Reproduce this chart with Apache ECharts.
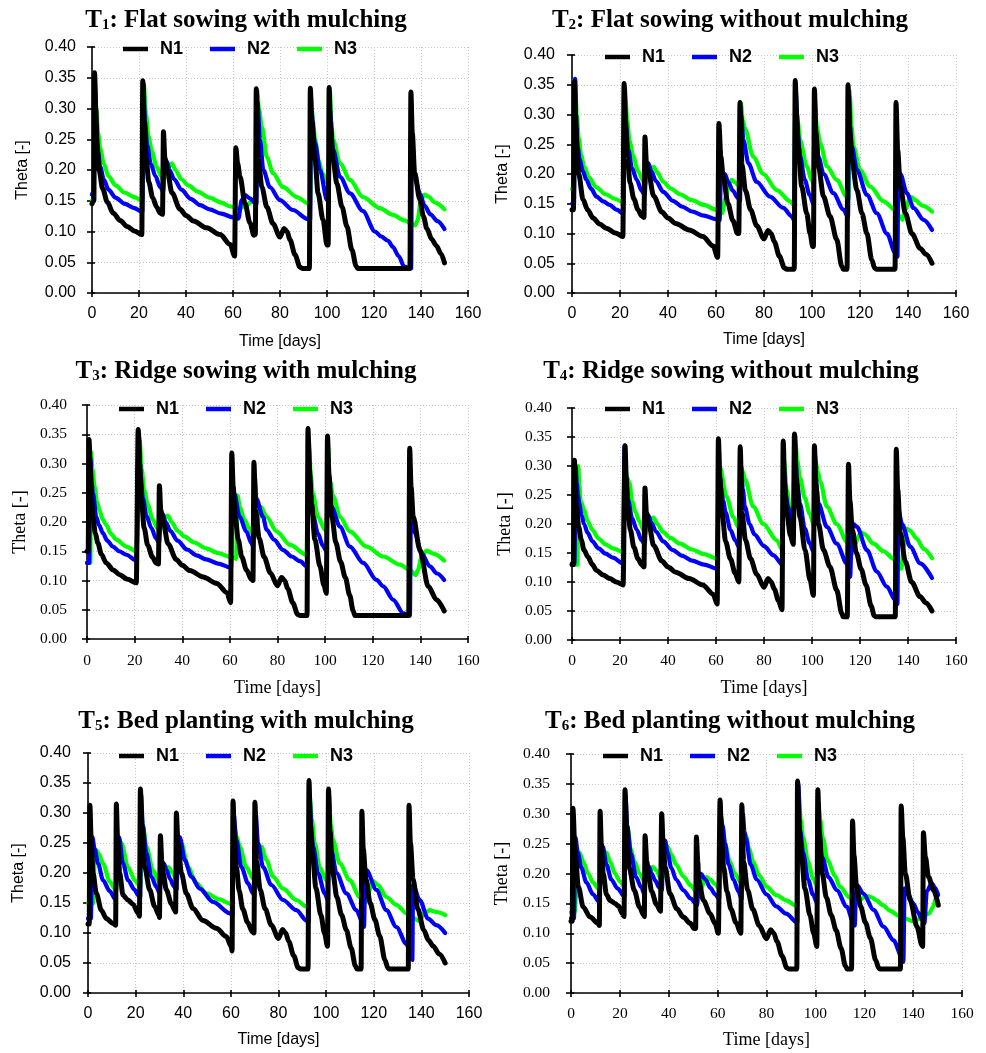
<!DOCTYPE html>
<html><head><meta charset="utf-8">
<script src="https://cdn.jsdelivr.net/npm/echarts@6/dist/echarts.min.js"></script>
<style>html,body{margin:0;padding:0;background:#fff}#c{width:986px;height:1053px}</style>
</head><body><div id="c"></div>
<script>
// ---------- axis definitions ----------
const X_MIN = 0, X_MAX = 160, X_STEP = 20;
const Y_MIN = 0, Y_MAX = 0.4, Y_STEP = 0.05;
const X_NAME = 'Time [days]';
const Y_NAME = 'Theta [-]';
const SERIES_NAMES = ['N1', 'N2', 'N3'];
const TITLE_SUBS = ['1', '2', '3', '4', '5', '6'];
const TITLE_TEXTS = [': Flat sowing with mulching', ': Flat sowing without mulching', ': Ridge sowing with mulching',
  ': Ridge sowing without mulching', ': Bed planting with mulching', ': Bed planting without mulching'];

// ---------- data: [day, theta] ----------
const T1_N1 = [[0,0.145],[0.8,0.15],[1.1,0.358],[1.6,0.3],[2.2,0.24],[3,0.2],[4.5,0.17],[6.5,0.148],[9,0.13],[12,0.118],[15,0.108],[18,0.101],[21.2,0.095],
[21.6,0.345],[22.2,0.28],[23,0.22],[24.2,0.18],[25.8,0.155],[27.5,0.14],[29,0.13],[30,0.128],
[30.4,0.262],[31,0.22],[32,0.2],[34,0.163],[37.5,0.136],[40,0.126],[43.2,0.117],[48.8,0.106],[54.5,0.095],[58.8,0.079],[60.7,0.06],
[61.2,0.236],[62,0.21],[63,0.189],[65.1,0.146],[67.2,0.114],[68.9,0.094],[69.5,0.095],
[69.9,0.332],[70.8,0.216],[72.3,0.172],[74.4,0.14],[77,0.113],[80,0.091],[81.7,0.105],[83,0.1],[84.3,0.086],[86.4,0.062],[88.5,0.042],[89.5,0.04],[92.5,0.04],
[92.9,0.333],[93.5,0.28],[94.9,0.216],[96.2,0.162],[98.3,0.119],[100,0.078],[100.5,0.078],
[100.9,0.334],[101.5,0.27],[102.6,0.216],[104.2,0.178],[106.4,0.14],[108.5,0.108],[110.6,0.07],[112.4,0.044],[113,0.04],[135.3,0.04],
[135.7,0.327],[136.3,0.26],[137.3,0.195],[139.5,0.152],[141,0.125],[142.5,0.105],[144.5,0.088],[146.5,0.077],[148.5,0.064],[150,0.049]];
const T1_N2 = [[0,0.16],[0.6,0.165],[1.2,0.34],[1.8,0.27],[2.5,0.23],[3.5,0.205],[5,0.185],[7,0.168],[10,0.155],[14,0.145],[18,0.138],[21.4,0.132],
[21.9,0.34],[22.5,0.28],[23.5,0.24],[25,0.21],[27,0.19],[29,0.172],[30.3,0.165],
[30.8,0.2],[31.8,0.214],[33,0.2],[35,0.185],[38,0.168],[42,0.153],[46,0.143],[50,0.136],[55,0.129],[60,0.123],[62.3,0.121],
[63.7,0.151],[65.1,0.159],[67.2,0.154],[69.4,0.146],[70,0.145],
[70.4,0.31],[71.5,0.249],[72.9,0.2],[75.7,0.172],[80,0.151],[85.5,0.135],[91.9,0.12],[92.8,0.118],
[93.2,0.3],[94.9,0.244],[97,0.2],[100,0.151],[100.7,0.148],
[101.1,0.3],[102.6,0.233],[105.5,0.189],[109.8,0.162],[115.3,0.133],[120.4,0.1],[123,0.092],[126,0.085],[128,0.075],[130.5,0.06],[132.8,0.043],[135.8,0.04],
[136.1,0.211],[137.5,0.185],[139.5,0.162],[141.5,0.142],[144,0.128],[147,0.117],[150,0.104]];
const T1_N3 = [[0,0.15],[0.7,0.15],[1.0,0.358],[1.8,0.3],[2.6,0.26],[3.5,0.235],[5,0.21],[7,0.19],[10,0.175],[14,0.163],[18,0.156],[21.5,0.15],
[22,0.34],[23,0.29],[24,0.255],[25.5,0.23],[27.5,0.205],[29.5,0.19],[30.6,0.182],
[31.2,0.195],[32.5,0.205],[34,0.211],[35.5,0.2],[38,0.185],[41,0.175],[45,0.165],[50,0.155],[55,0.147],[58.7,0.141],[62.8,0.138],[66,0.143],[68.5,0.151],[69.8,0.155],
[70.3,0.33],[71,0.3],[72.3,0.27],[74.4,0.221],[77,0.195],[81.3,0.172],[87.2,0.156],[91.9,0.146],[92.8,0.142],
[93.2,0.32],[94,0.28],[94.9,0.25],[96.5,0.215],[98,0.195],[100,0.18],[100.8,0.178],
[101.2,0.33],[101.8,0.28],[102.6,0.249],[105.5,0.211],[109.8,0.184],[115.3,0.156],[122.5,0.138],[128,0.127],[133,0.118],[136,0.113],[137.5,0.11],[138.5,0.118],[140,0.152],[141.5,0.16],[143,0.157],[146,0.147],[150,0.136]];

const T2_N1 = [[0,0.14],[0.6,0.14],[1.0,0.355],[1.5,0.3],[2.1,0.24],[2.8,0.2],[4.6,0.157],[6.5,0.14],[8.8,0.126],[11.5,0.116],[14.3,0.109],[18,0.101],[21.2,0.095],
[21.7,0.352],[22.3,0.29],[23,0.23],[24.2,0.185],[25.8,0.158],[27.5,0.14],[29,0.13],[30,0.127],
[30.4,0.262],[31,0.22],[32,0.2],[34,0.163],[37.5,0.136],[40,0.126],[43.2,0.117],[48.8,0.106],[54.5,0.095],[58.8,0.079],[60.7,0.06],
[61.2,0.285],[62,0.23],[63,0.195],[65,0.15],[67,0.122],[69,0.1],[69.5,0.1],
[70,0.32],[70.8,0.216],[72.3,0.172],[74.4,0.14],[77,0.113],[80,0.091],[81.7,0.105],[83,0.1],[84.3,0.086],[86.4,0.062],[88.5,0.042],[89.5,0.04],[92.6,0.04],
[93,0.357],[93.6,0.3],[94.3,0.246],[95.7,0.179],[97.8,0.134],[99.2,0.1],[100.3,0.078],[100.6,0.078],
[101,0.343],[101.6,0.27],[102.7,0.213],[104.8,0.162],[107.5,0.129],[110.3,0.09],[112.4,0.045],[113,0.04],[114.6,0.04],
[115,0.35],[115.6,0.28],[116.6,0.224],[118.7,0.173],[120.8,0.134],[122.9,0.1],[124.9,0.056],[126.1,0.042],[126.8,0.04],[134.6,0.04],
[135,0.32],[135.7,0.24],[136.8,0.179],[138.9,0.134],[141.6,0.1],[145.1,0.075],[147.5,0.065],[150,0.05]];
const T2_N2 = [[0,0.15],[0.8,0.15],[1.3,0.36],[1.8,0.28],[2.4,0.245],[3.2,0.224],[4.5,0.205],[6,0.19],[8,0.175],[10.2,0.162],[13,0.154],[15.7,0.148],[18.5,0.14],[21.3,0.134],
[21.9,0.34],[22.5,0.28],[23.5,0.24],[25,0.21],[27,0.19],[29,0.172],[30.3,0.165],
[30.8,0.2],[31.8,0.218],[33,0.205],[35,0.188],[38,0.17],[42,0.155],[46,0.145],[50,0.137],[55,0.13],[60,0.124],[61.5,0.122],
[62,0.19],[63.7,0.2],[65,0.187],[67,0.172],[69,0.16],[70,0.155],
[70.5,0.3],[71.4,0.257],[73.5,0.218],[76.9,0.187],[82.5,0.162],[88,0.143],[91.5,0.129],[92.6,0.122],
[93.1,0.35],[94,0.27],[95,0.23],[97,0.19],[99,0.165],[100.6,0.15],
[101.1,0.32],[101.8,0.26],[102.7,0.229],[104.8,0.2],[108.9,0.168],[113.1,0.14],[115,0.128],
[115.5,0.33],[116,0.27],[116.6,0.246],[118.7,0.207],[122.9,0.165],[127,0.134],[131.2,0.1],[134.7,0.067],[135.6,0.061],
[136,0.205],[136.8,0.2],[139.5,0.168],[142.3,0.143],[146.5,0.123],[150,0.106]];
const T2_N3 = [[0,0.175],[0.8,0.175],[1.2,0.36],[2,0.3],[2.8,0.26],[3.8,0.232],[5,0.213],[7,0.195],[10,0.178],[14,0.166],[18,0.158],[21.5,0.152],
[22,0.345],[23,0.29],[24,0.255],[25.5,0.23],[27.5,0.205],[29.5,0.19],[30.6,0.182],
[31.2,0.195],[32.5,0.208],[34,0.212],[35.5,0.203],[38,0.187],[41,0.176],[45,0.166],[50,0.156],[55,0.148],[60,0.14],[61.5,0.138],[62.5,0.134],[64,0.16],[65.5,0.185],[66.5,0.19],[68,0.186],[69.6,0.18],
[70.3,0.32],[71.2,0.29],[72,0.277],[75.5,0.229],[79.7,0.2],[85.3,0.173],[90.9,0.154],[92.6,0.147],
[93.1,0.34],[94,0.29],[95,0.257],[97.8,0.213],[99.9,0.19],[100.6,0.185],
[101.1,0.33],[102,0.28],[103.4,0.252],[106.2,0.213],[110.3,0.19],[114.5,0.162],[115.2,0.158],
[115.6,0.34],[116.5,0.28],[117.3,0.246],[120,0.207],[124.2,0.179],[129.8,0.154],[135.4,0.137],[136.5,0.128],[137.7,0.123],[139,0.14],[140.5,0.158],[141.5,0.161],[143,0.156],[146,0.147],[150,0.137]];

const T3_N1 = [[0,0.15],[0.5,0.15],[0.85,0.341],[1.4,0.29],[1.9,0.24],[2.5,0.209],[3.5,0.18],[4.6,0.164],[6,0.145],[8.1,0.13],[11,0.118],[13.7,0.11],[17,0.102],[20.7,0.096],
[21.5,0.358],[22.1,0.3],[22.8,0.24],[24,0.19],[25.5,0.16],[27.5,0.14],[29,0.13],[30,0.128],
[30.4,0.262],[31,0.22],[32,0.2],[34,0.163],[37.5,0.136],[40,0.126],[43.2,0.117],[48.8,0.106],[54.5,0.095],[58.8,0.079],[60.3,0.062],
[60.8,0.318],[61.4,0.26],[62.2,0.21],[63.5,0.17],[65,0.14],[67,0.118],[69,0.102],[69.7,0.1],
[70.1,0.302],[70.8,0.22],[72.3,0.172],[74.4,0.14],[77,0.113],[80,0.091],[81.7,0.105],[83,0.1],[84.3,0.086],[86.4,0.062],[88.5,0.042],[89.5,0.04],[92.4,0.04],
[92.8,0.36],[93.4,0.29],[94.3,0.23],[95.7,0.17],[97.8,0.125],[99.5,0.092],[100.5,0.078],
[101,0.347],[101.6,0.28],[102.8,0.21],[104.5,0.165],[106.5,0.132],[108.5,0.105],[110.3,0.075],[111.8,0.048],[112.5,0.04],[135.1,0.04],
[135.5,0.326],[136.1,0.26],[137,0.209],[139.8,0.152],[143.3,0.09],[146.8,0.067],[150,0.048]];
const T3_N2 = [[0,0.13],[0.9,0.13],[1.4,0.31],[1.9,0.27],[2.5,0.249],[3.9,0.209],[5,0.195],[6.7,0.181],[8.5,0.168],[10.9,0.158],[13.5,0.15],[16.5,0.144],[20.7,0.134],
[21.9,0.34],[22.5,0.28],[23.5,0.24],[25,0.21],[27,0.19],[29,0.172],[30.3,0.165],
[30.8,0.2],[31.8,0.214],[33,0.2],[35,0.185],[38,0.168],[42,0.153],[46,0.143],[50,0.136],[55,0.129],[60.5,0.122],
[61,0.27],[61.8,0.249],[64.1,0.209],[66.9,0.184],[69,0.164],[69.8,0.158],
[70.4,0.28],[71.1,0.24],[73.9,0.209],[75.4,0.187],[78.5,0.17],[82.4,0.152],[86,0.141],[89.4,0.133],[92.4,0.124],
[93.1,0.33],[94,0.25],[95,0.21],[97,0.18],[99,0.16],[100.6,0.15],
[101.2,0.31],[102,0.25],[102.7,0.226],[106.2,0.192],[110.4,0.158],[116,0.13],[121.6,0.101],[124.4,0.09],[128.6,0.067],[132.8,0.044],[135.6,0.04],
[136,0.2],[137.7,0.181],[140.5,0.147],[144,0.124],[147,0.112],[150,0.101]];
const T3_N3 = [[0,0.13],[1.4,0.13],[1.7,0.32],[2.3,0.29],[3.2,0.26],[4.2,0.235],[5.3,0.22],[6.5,0.205],[8.1,0.195],[10,0.18],[12.3,0.17],[16.5,0.158],[20.7,0.15],
[22,0.345],[23,0.29],[24,0.255],[25.5,0.23],[27.5,0.205],[29.5,0.19],[30.6,0.182],
[31.2,0.195],[32.5,0.208],[34,0.211],[35.5,0.2],[38,0.185],[41,0.175],[45,0.165],[50,0.155],[55,0.147],[60.5,0.14],[62.6,0.137],
[63.2,0.245],[64.2,0.226],[66,0.205],[68,0.19],[69.6,0.18],[70.5,0.178],[71.5,0.2],[73,0.226],[75.4,0.209],[79.6,0.184],[85.2,0.161],[92.2,0.144],
[93.1,0.34],[94,0.28],[94.8,0.249],[97,0.209],[99.9,0.187],[100.6,0.182],
[101.2,0.33],[102,0.27],[103.4,0.244],[106.2,0.209],[110.4,0.184],[117.4,0.158],[124.4,0.141],[131.4,0.127],[135.6,0.118],[138,0.109],[139,0.118],[140.5,0.141],[142.6,0.151],[145.4,0.146],[150,0.134]];

const T4_N1 = [[0,0.13],[0.6,0.13],[1,0.31],[1.4,0.27],[1.8,0.23],[2.8,0.195],[3.9,0.172],[5,0.155],[6.7,0.143],[8.5,0.13],[10.2,0.12],[13,0.112],[15.7,0.106],[18.5,0.1],[21.3,0.095],
[22.1,0.335],[22.6,0.28],[23.2,0.23],[24.3,0.19],[25.8,0.16],[27.5,0.14],[29,0.13],[30,0.126],
[30.4,0.262],[31,0.22],[32,0.2],[34,0.163],[37.5,0.136],[40,0.126],[43.2,0.117],[48.8,0.106],[54.5,0.095],[58.8,0.079],[60.5,0.062],
[61,0.347],[61.6,0.28],[62.5,0.22],[64,0.17],[66,0.14],[68,0.115],[69.5,0.1],
[70.1,0.333],[70.8,0.22],[72.3,0.172],[74.4,0.14],[77,0.113],[80,0.091],[81.7,0.106],[83,0.1],[84.3,0.088],[86,0.068],[87.5,0.052],
[88,0.343],[88.6,0.27],[89.5,0.22],[91,0.18],[92.2,0.165],
[92.7,0.355],[93.4,0.28],[95,0.212],[97.1,0.155],[99.2,0.103],[100.6,0.077],
[101,0.335],[101.6,0.27],[102.7,0.2],[104.8,0.155],[107.5,0.126],[110.3,0.086],[112.4,0.046],[113,0.04],[114.7,0.04],
[115.2,0.303],[115.8,0.24],[116.8,0.19],[118.5,0.15],[120.5,0.122],[122.5,0.095],[124.7,0.058],[125.9,0.042],[126.5,0.04],[134.7,0.04],
[135.1,0.329],[135.7,0.26],[136.8,0.185],[138.9,0.135],[141.5,0.1],[145,0.075],[147.5,0.064],[150,0.05]];
const T4_N2 = [[0,0.132],[1,0.132],[1.5,0.3],[2,0.27],[2.5,0.25],[3,0.235],[4,0.215],[5,0.2],[6.5,0.185],[8.5,0.17],[11,0.158],[14,0.149],[17,0.142],[21.3,0.132],
[21.9,0.335],[22.5,0.28],[23.5,0.24],[25,0.21],[27,0.19],[29,0.172],[30.3,0.165],
[30.8,0.2],[31.8,0.215],[33,0.203],[35,0.187],[38,0.17],[42,0.155],[46,0.145],[50,0.137],[55,0.13],[60.5,0.123],
[61.2,0.3],[62,0.264],[63,0.24],[64,0.22],[66,0.19],[68,0.172],[69.6,0.16],
[70.4,0.3],[71.2,0.26],[72,0.23],[74,0.2],[76,0.182],[80,0.162],[84,0.146],[87.6,0.13],
[88.2,0.3],[89,0.25],[90,0.23],[91.2,0.21],[92.3,0.2],
[92.9,0.34],[93.8,0.27],[95,0.235],[97,0.192],[99,0.167],[100.6,0.152],
[101.2,0.32],[102,0.26],[102.7,0.235],[106.2,0.195],[110.3,0.166],[114.5,0.132],[115.9,0.109],
[116.6,0.19],[117.3,0.2],[118.7,0.195],[122.9,0.155],[127,0.118],[131.2,0.092],[134.7,0.069],[135.6,0.062],
[136,0.224],[137.5,0.2],[140.9,0.161],[145.1,0.132],[150,0.107]];
const T4_N3 = [[0,0.13],[2.3,0.13],[2.6,0.3],[3.1,0.265],[3.6,0.24],[5,0.225],[6.5,0.205],[8.5,0.19],[11,0.175],[14,0.165],[17,0.158],[21.3,0.152],
[22,0.3],[23,0.28],[24,0.27],[25,0.24],[26.5,0.22],[28,0.205],[30,0.188],[30.6,0.183],
[31.2,0.195],[32.5,0.208],[34,0.211],[35.5,0.2],[38,0.186],[41,0.176],[45,0.166],[50,0.156],[55,0.148],[60.5,0.14],
[61.2,0.33],[61.6,0.298],[64.4,0.247],[67.2,0.212],[69.3,0.195],[69.8,0.19],
[70.4,0.3],[71.2,0.29],[72,0.278],[75.5,0.23],[79.7,0.2],[85.3,0.172],[87.7,0.155],
[88.3,0.31],[89.5,0.258],[90.9,0.224],[92.2,0.212],
[92.9,0.355],[93.8,0.31],[95,0.28],[97,0.245],[99,0.218],[100.6,0.2],
[101.3,0.31],[102.5,0.29],[103.4,0.273],[106.2,0.23],[110.3,0.2],[114.5,0.17],[115.9,0.152],[116.6,0.148],[118,0.165],[119.5,0.18],[120.5,0.185],[122,0.182],[125.6,0.166],[129.8,0.153],[134,0.14],[136.5,0.13],[137.2,0.123],[138.2,0.16],[139.5,0.192],[141,0.188],[143.6,0.175],[146.5,0.157],[150,0.141]];

const T5_N1 = [[0,0.115],[0.5,0.115],[0.8,0.313],[1.3,0.26],[2.1,0.2],[3.5,0.166],[5.6,0.138],[7.7,0.124],[10.5,0.116],[11.6,0.113],
[11.9,0.315],[12.4,0.26],[13.3,0.2],[14.7,0.163],[16.8,0.155],[18.9,0.148],[21,0.133],[21.6,0.128],
[22,0.34],[22.6,0.28],[23.8,0.21],[25.9,0.172],[28,0.144],[29.8,0.13],[30,0.126],
[30.4,0.262],[31,0.22],[31.5,0.2],[32.9,0.172],[35,0.149],[36.4,0.138],[36.8,0.135],
[37.1,0.3],[37.8,0.25],[39.2,0.2],[41.3,0.166],[44.1,0.141],[48.3,0.121],[53.9,0.108],[58.1,0.094],[60.2,0.077],[60.5,0.07],
[60.9,0.32],[61.5,0.26],[62.3,0.21],[63.5,0.17],[65,0.14],[67,0.118],[69,0.102],[69.7,0.1],
[70.1,0.318],[70.8,0.22],[72.3,0.172],[74.4,0.14],[77,0.113],[80,0.091],[81.7,0.106],[83,0.1],[84.3,0.086],[86.4,0.062],[88.3,0.042],[89.3,0.04],[92.4,0.04],
[92.8,0.354],[93.4,0.28],[94.3,0.23],[95.7,0.175],[97.8,0.13],[99.3,0.1],[100.6,0.078],
[101,0.34],[101.6,0.27],[102.8,0.2],[104.5,0.16],[106.5,0.13],[108.5,0.105],[110.5,0.075],[112.3,0.045],[113,0.04],[114.7,0.04],
[115,0.303],[115.6,0.24],[116.7,0.19],[118.5,0.15],[120.5,0.122],[122.5,0.095],[124.7,0.055],[125.9,0.042],[126.5,0.04],[134.5,0.04],
[134.8,0.313],[135.4,0.25],[136.5,0.19],[138.5,0.14],[141,0.105],[143,0.088],[145,0.078],[147.5,0.065],[150,0.05]];
const T5_N2 = [[0,0.124],[1.2,0.124],[1.8,0.26],[2.8,0.24],[4.2,0.216],[6.3,0.188],[9.1,0.17],[11.6,0.156],
[12.2,0.24],[13,0.26],[14.7,0.216],[16.8,0.188],[19.6,0.172],[21,0.163],[21.9,0.16],
[22.3,0.33],[23,0.28],[24.5,0.233],[26.6,0.194],[28.7,0.177],[30.1,0.166],
[30.6,0.2],[31.8,0.216],[33,0.205],[34.5,0.19],[36,0.178],[37.2,0.172],
[37.6,0.24],[38.5,0.26],[40.6,0.222],[43.4,0.194],[46.9,0.174],[52.5,0.152],[59.5,0.133],[60.6,0.13],
[61.1,0.3],[62.3,0.255],[64.4,0.21],[67.2,0.183],[69.3,0.166],[69.8,0.162],
[70.4,0.3],[71.4,0.25],[73.5,0.21],[77,0.18],[81.9,0.155],[87.5,0.138],[91.7,0.121],[92.6,0.118],
[93,0.33],[93.8,0.27],[94.5,0.244],[96.6,0.2],[99.4,0.166],[100.8,0.155],
[101.2,0.33],[101.6,0.27],[102.2,0.238],[104.3,0.2],[108.5,0.166],[112.7,0.138],[115.5,0.116],[115.9,0.11],
[116.4,0.19],[116.9,0.205],[121.1,0.172],[125.3,0.138],[129.5,0.11],[133.7,0.082],[135.8,0.06],[136.2,0.055],
[136.5,0.18],[139.3,0.155],[142.8,0.124],[146.3,0.113],[150,0.1]];
const T5_N3 = [[0,0.15],[2.1,0.149],[2.8,0.22],[3.5,0.238],[4.5,0.232],[6.3,0.216],[9.1,0.186],[11.2,0.174],[11.8,0.172],
[12.4,0.2],[13.2,0.235],[14,0.25],[16.8,0.21],[19.6,0.188],[21.4,0.18],[22,0.178],
[22.4,0.3],[23,0.28],[24.5,0.244],[27.3,0.205],[29.4,0.188],[30.3,0.185],
[31,0.19],[32.5,0.205],[33.6,0.21],[35.7,0.2],[36.8,0.191],[37.4,0.188],
[37.8,0.22],[38.6,0.245],[39.2,0.25],[42,0.21],[45.5,0.183],[49.7,0.166],[55.3,0.156],[59.5,0.149],[60.6,0.147],
[61.2,0.28],[62.5,0.26],[63.7,0.244],[66.5,0.21],[69.3,0.191],[70,0.188],
[70.5,0.23],[71.5,0.24],[72.8,0.244],[74.9,0.222],[77.7,0.194],[81.9,0.174],[87.5,0.155],[91.7,0.144],[92.6,0.142],
[93,0.33],[94,0.29],[95.2,0.25],[97.3,0.21],[100.1,0.188],[100.8,0.184],
[101.2,0.32],[102,0.28],[102.9,0.255],[105.7,0.216],[109.9,0.188],[114.1,0.16],[116.2,0.15],[117.5,0.165],[119.7,0.186],[121.8,0.18],[125.3,0.16],[129.5,0.147],[133.7,0.133],[137.2,0.124],[139,0.12],[141.4,0.133],[143.5,0.138],[146.3,0.135],[150,0.13]];

const T6_N1 = [[0,0.12],[0.5,0.12],[0.8,0.309],[1.6,0.239],[3,0.178],[5,0.144],[7.8,0.127],[11.2,0.116],[11.6,0.113],
[11.9,0.304],[12.4,0.25],[13.2,0.2],[14.5,0.165],[16,0.155],[18,0.15],[19.5,0.145],[21,0.133],[21.7,0.128],
[22.1,0.34],[22.7,0.28],[23.8,0.21],[25.9,0.172],[28,0.144],[29.8,0.13],[30,0.128],
[30.3,0.263],[31,0.22],[31.8,0.195],[33,0.17],[35,0.148],[36.6,0.137],
[37.1,0.3],[37.7,0.25],[38.5,0.211],[40.5,0.166],[43.3,0.141],[46,0.127],[48.7,0.117],[50.4,0.108],[51,0.108],
[51.3,0.261],[51.9,0.22],[52.2,0.189],[54.2,0.155],[56.9,0.133],[59,0.116],[60.3,0.1],
[61,0.323],[61.6,0.26],[62.5,0.21],[63.8,0.17],[65.5,0.14],[67.5,0.118],[69.5,0.1],
[69.9,0.315],[70.6,0.22],[72.3,0.172],[74.4,0.14],[77,0.113],[80,0.091],[81.7,0.106],[83,0.1],[84.3,0.086],[86.4,0.062],[88.3,0.042],[89.3,0.04],[92.4,0.04],
[92.7,0.355],[93.3,0.28],[94.3,0.23],[95.7,0.175],[97.8,0.13],[99.3,0.1],[100.6,0.078],
[101,0.34],[101.6,0.27],[102.8,0.2],[104.5,0.16],[106.5,0.13],[108.5,0.105],[110.5,0.075],[112.3,0.045],[113,0.04],[114.8,0.04],
[115.2,0.288],[115.8,0.23],[116.8,0.18],[118.5,0.145],[120.5,0.118],[122.5,0.092],[124.7,0.055],[125.9,0.042],[126.5,0.04],[134.8,0.04],
[135.1,0.313],[135.8,0.26],[136.8,0.2],[138.8,0.155],[141.6,0.111],[143.6,0.08],[143.9,0.078],
[144.2,0.268],[145,0.228],[146.3,0.194],[148.4,0.172],[150.3,0.147]];
const T6_N2 = [[0,0.125],[1.2,0.125],[1.8,0.26],[2.8,0.235],[4.2,0.21],[6.3,0.185],[9,0.165],[11.6,0.152],
[12.2,0.23],[13,0.245],[14.5,0.215],[16.5,0.19],[19,0.175],[21.9,0.162],
[22.3,0.33],[23,0.28],[24.5,0.233],[26.6,0.194],[28.7,0.177],[30.1,0.165],
[30.6,0.2],[31.8,0.212],[33,0.2],[34.5,0.188],[36,0.177],[37.2,0.172],
[37.6,0.24],[38.5,0.255],[39.5,0.235],[41,0.21],[43,0.19],[46,0.172],[49,0.158],[51.6,0.147],
[52.2,0.18],[53,0.2],[55,0.19],[57,0.176],[59,0.165],[60.6,0.158],
[61.1,0.3],[62,0.28],[63,0.25],[64.5,0.215],[66.5,0.19],[68.5,0.17],[69.8,0.158],
[70.3,0.3],[71,0.27],[71.5,0.26],[73.5,0.215],[76,0.19],[80,0.165],[84,0.145],[88,0.133],[92.6,0.118],
[93,0.35],[93.8,0.27],[95,0.235],[97,0.19],[99,0.165],[100.6,0.152],
[101.2,0.32],[101.8,0.26],[102.7,0.228],[105.4,0.194],[108.8,0.172],[112.9,0.144],[115.5,0.118],[116.1,0.113],
[116.6,0.17],[117.1,0.18],[119.7,0.166],[123.8,0.139],[127.9,0.111],[132,0.088],[135.4,0.06],[136,0.052],
[136.5,0.175],[138,0.165],[140,0.15],[142,0.135],[143.5,0.124],[144.6,0.117],
[145.6,0.17],[147.6,0.184],[149,0.176],[150.2,0.164]];
const T6_N3 = [[0,0.135],[1.5,0.135],[2,0.16],[2.8,0.22],[3.5,0.235],[5,0.22],[7,0.2],[9,0.185],[11.6,0.173],
[12.2,0.185],[13.5,0.225],[14.5,0.235],[16,0.22],[18,0.2],[20,0.187],[21.9,0.178],
[22.4,0.3],[23,0.28],[24.5,0.24],[26,0.22],[28,0.2],[30.3,0.185],
[31,0.19],[32.5,0.205],[33.5,0.211],[35,0.205],[36.5,0.193],[37.4,0.19],
[37.8,0.22],[38.8,0.24],[39.5,0.245],[41,0.232],[43,0.215],[46,0.195],[49,0.18],[51.6,0.168],[52.5,0.163],[53.5,0.175],[54.5,0.19],[55.5,0.194],[57,0.19],[59,0.182],[60.6,0.175],
[61.2,0.3],[62,0.28],[63,0.25],[65,0.22],[67,0.2],[69.6,0.185],
[70.3,0.27],[71.5,0.264],[73,0.24],[74.5,0.22],[77,0.197],[80,0.178],[84,0.164],[88,0.155],[92.6,0.145],
[93,0.34],[94,0.29],[95,0.26],[97,0.22],[99,0.192],[100.6,0.18],
[101.2,0.32],[102,0.29],[103,0.26],[105,0.222],[108,0.196],[110,0.178],[114,0.16],[116,0.15],[118.2,0.156],[120,0.16],[121.5,0.162],[123,0.16],[125,0.155],[127.6,0.147],[130.5,0.138],[133.8,0.13],[137,0.124],[140,0.12],[142,0.123],[144,0.13],[146.5,0.133],[148,0.143],[149.5,0.16],[150.3,0.165]];

// ---------- layout (screen px) ----------
const PANELS = [
  {data:[T1_N1,T1_N2,T1_N3], serif:false, grid:[92,47,376,246], legend:[123,40], title:[246,20], xGap:41, yGap:61, xMargin:13, yMargin:16},
  {data:[T2_N1,T2_N2,T2_N3], serif:false, grid:[572,55,384,238], legend:[605,48], title:[730,20], xGap:39, yGap:61, xMargin:13, yMargin:17},
  {data:[T3_N1,T3_N2,T3_N3], serif:true,  grid:[87,405,381,234], legend:[119,400], title:[246,371], xGap:40, yGap:58, xMargin:14, yMargin:20},
  {data:[T4_N1,T4_N2,T4_N3], serif:true,  grid:[572,408,384,232], legend:[605,400], title:[731,371], xGap:39, yGap:58, xMargin:13, yMargin:20},
  {data:[T5_N1,T5_N2,T5_N3], serif:false, grid:[88,753,381,240], legend:[119,747], title:[246,721], xGap:39, yGap:61, xMargin:13, yMargin:17},
  {data:[T6_N1,T6_N2,T6_N3], serif:true,  grid:[571,754,391,239], legend:[603,747], title:[730,721], xGap:38, yGap:60, xMargin:13, yMargin:21}
];
const STYLES = [
  {color:'#000000', width:5},
  {color:'#0000ff', width:4.2},
  {color:'#00ff00', width:4.2}
];

const SANS = 'Liberation Sans', SERIF = 'Liberation Serif';
const grids = [], xAxes = [], yAxes = [], series = [], legends = [], graphics = [];
const splitStyle = {show:true, lineStyle:{color:'#c4c4c4', type:[1,2], width:1}};
const lineStyleAxis = {color:'#000', width:1.6};

PANELS.forEach((p, i) => {
  const fam = p.serif ? SERIF : SANS;
  const tickSize = p.serif ? 15.5 : 16;
  const nameSize = p.serif ? 18 : 16;
  grids.push({left:p.grid[0], top:p.grid[1], width:p.grid[2], height:p.grid[3], containLabel:false, outerBoundsMode:'none'});
  xAxes.push({gridIndex:i, type:'value', position:'bottom', min:X_MIN, max:X_MAX, interval:X_STEP,
    name:X_NAME, nameLocation:'middle', nameGap:p.xGap, nameMoveOverlap:false,
    nameTextStyle:{fontFamily:fam, fontSize:nameSize, color:'#000'},
    axisLine:{show:true, onZero:false, lineStyle:lineStyleAxis},
    axisTick:{show:true, length:4, lineStyle:lineStyleAxis},
    axisLabel:{show:true, margin:p.xMargin, fontFamily:fam, fontSize:tickSize, color:'#000', hideOverlap:false, showMinLabel:true, showMaxLabel:true},
    splitLine:splitStyle});
  xAxes.push({gridIndex:i, type:'value', position:'bottom', min:X_MIN, max:X_MAX, interval:X_STEP,
    axisLine:{show:false}, axisTick:{show:true, inside:true, length:3, lineStyle:lineStyleAxis},
    axisLabel:{show:false}, splitLine:{show:false}});
  yAxes.push({gridIndex:i, type:'value', position:'left', min:Y_MIN, max:Y_MAX, interval:Y_STEP,
    name:Y_NAME, nameLocation:'middle', nameGap:p.yGap, nameMoveOverlap:false,
    nameTextStyle:{fontFamily:fam, fontSize:nameSize, color:'#000'},
    axisLine:{show:true, onZero:false, lineStyle:lineStyleAxis},
    axisTick:{show:true, length:5, lineStyle:lineStyleAxis},
    axisLabel:{show:true, margin:p.yMargin, fontFamily:fam, fontSize:tickSize, color:'#000', formatter:v => v.toFixed(2), hideOverlap:false, showMinLabel:true, showMaxLabel:true},
    splitLine:splitStyle});
  yAxes.push({gridIndex:i, type:'value', position:'left', min:Y_MIN, max:Y_MAX, interval:Y_STEP,
    axisLine:{show:false}, axisTick:{show:true, inside:true, length:3, lineStyle:lineStyleAxis},
    axisLabel:{show:false}, splitLine:{show:false}});
  [2, 1, 0].forEach(k => {
    series.push({type:'line', name:SERIES_NAMES[k], xAxisIndex:2*i, yAxisIndex:2*i, data:p.data[k],
      showSymbol:false, symbol:'none', smooth:0.3, smoothMonotone:'x', animation:false, silent:true,
      color:STYLES[k].color, lineStyle:{color:STYLES[k].color, width:STYLES[k].width, join:'round', cap:'round'}});
  });
  legends.push({left:p.legend[0], top:p.legend[1], data:SERIES_NAMES, icon:'rect', itemWidth:25, itemHeight:4.5, itemGap:27,
    selectedMode:false, padding:0,
    textStyle:{fontFamily:SANS, fontWeight:'bold', fontSize:18, color:'#000', padding:[0,0,0,7]}});
  graphics.push({type:'text', x:p.title[0], y:p.title[1], silent:true,
    style:{text:'{a|T}{s|' + TITLE_SUBS[i] + '}{a|' + TITLE_TEXTS[i] + '}', align:'center', verticalAlign:'middle',
      rich:{a:{fontFamily:SERIF, fontWeight:'bold', fontSize:25, fill:'#000', verticalAlign:'bottom', lineHeight:26},
            s:{fontFamily:SERIF, fontWeight:'bold', fontSize:15, fill:'#000', verticalAlign:'bottom', lineHeight:20}}}});
});

const chart = echarts.init(document.getElementById('c'), null, {renderer:'canvas'});
chart.setOption({
  animation:false,
  backgroundColor:'#ffffff',
  grid:grids, xAxis:xAxes, yAxis:yAxes, series:series, legend:legends, graphic:graphics
});
</script>
</body></html>
